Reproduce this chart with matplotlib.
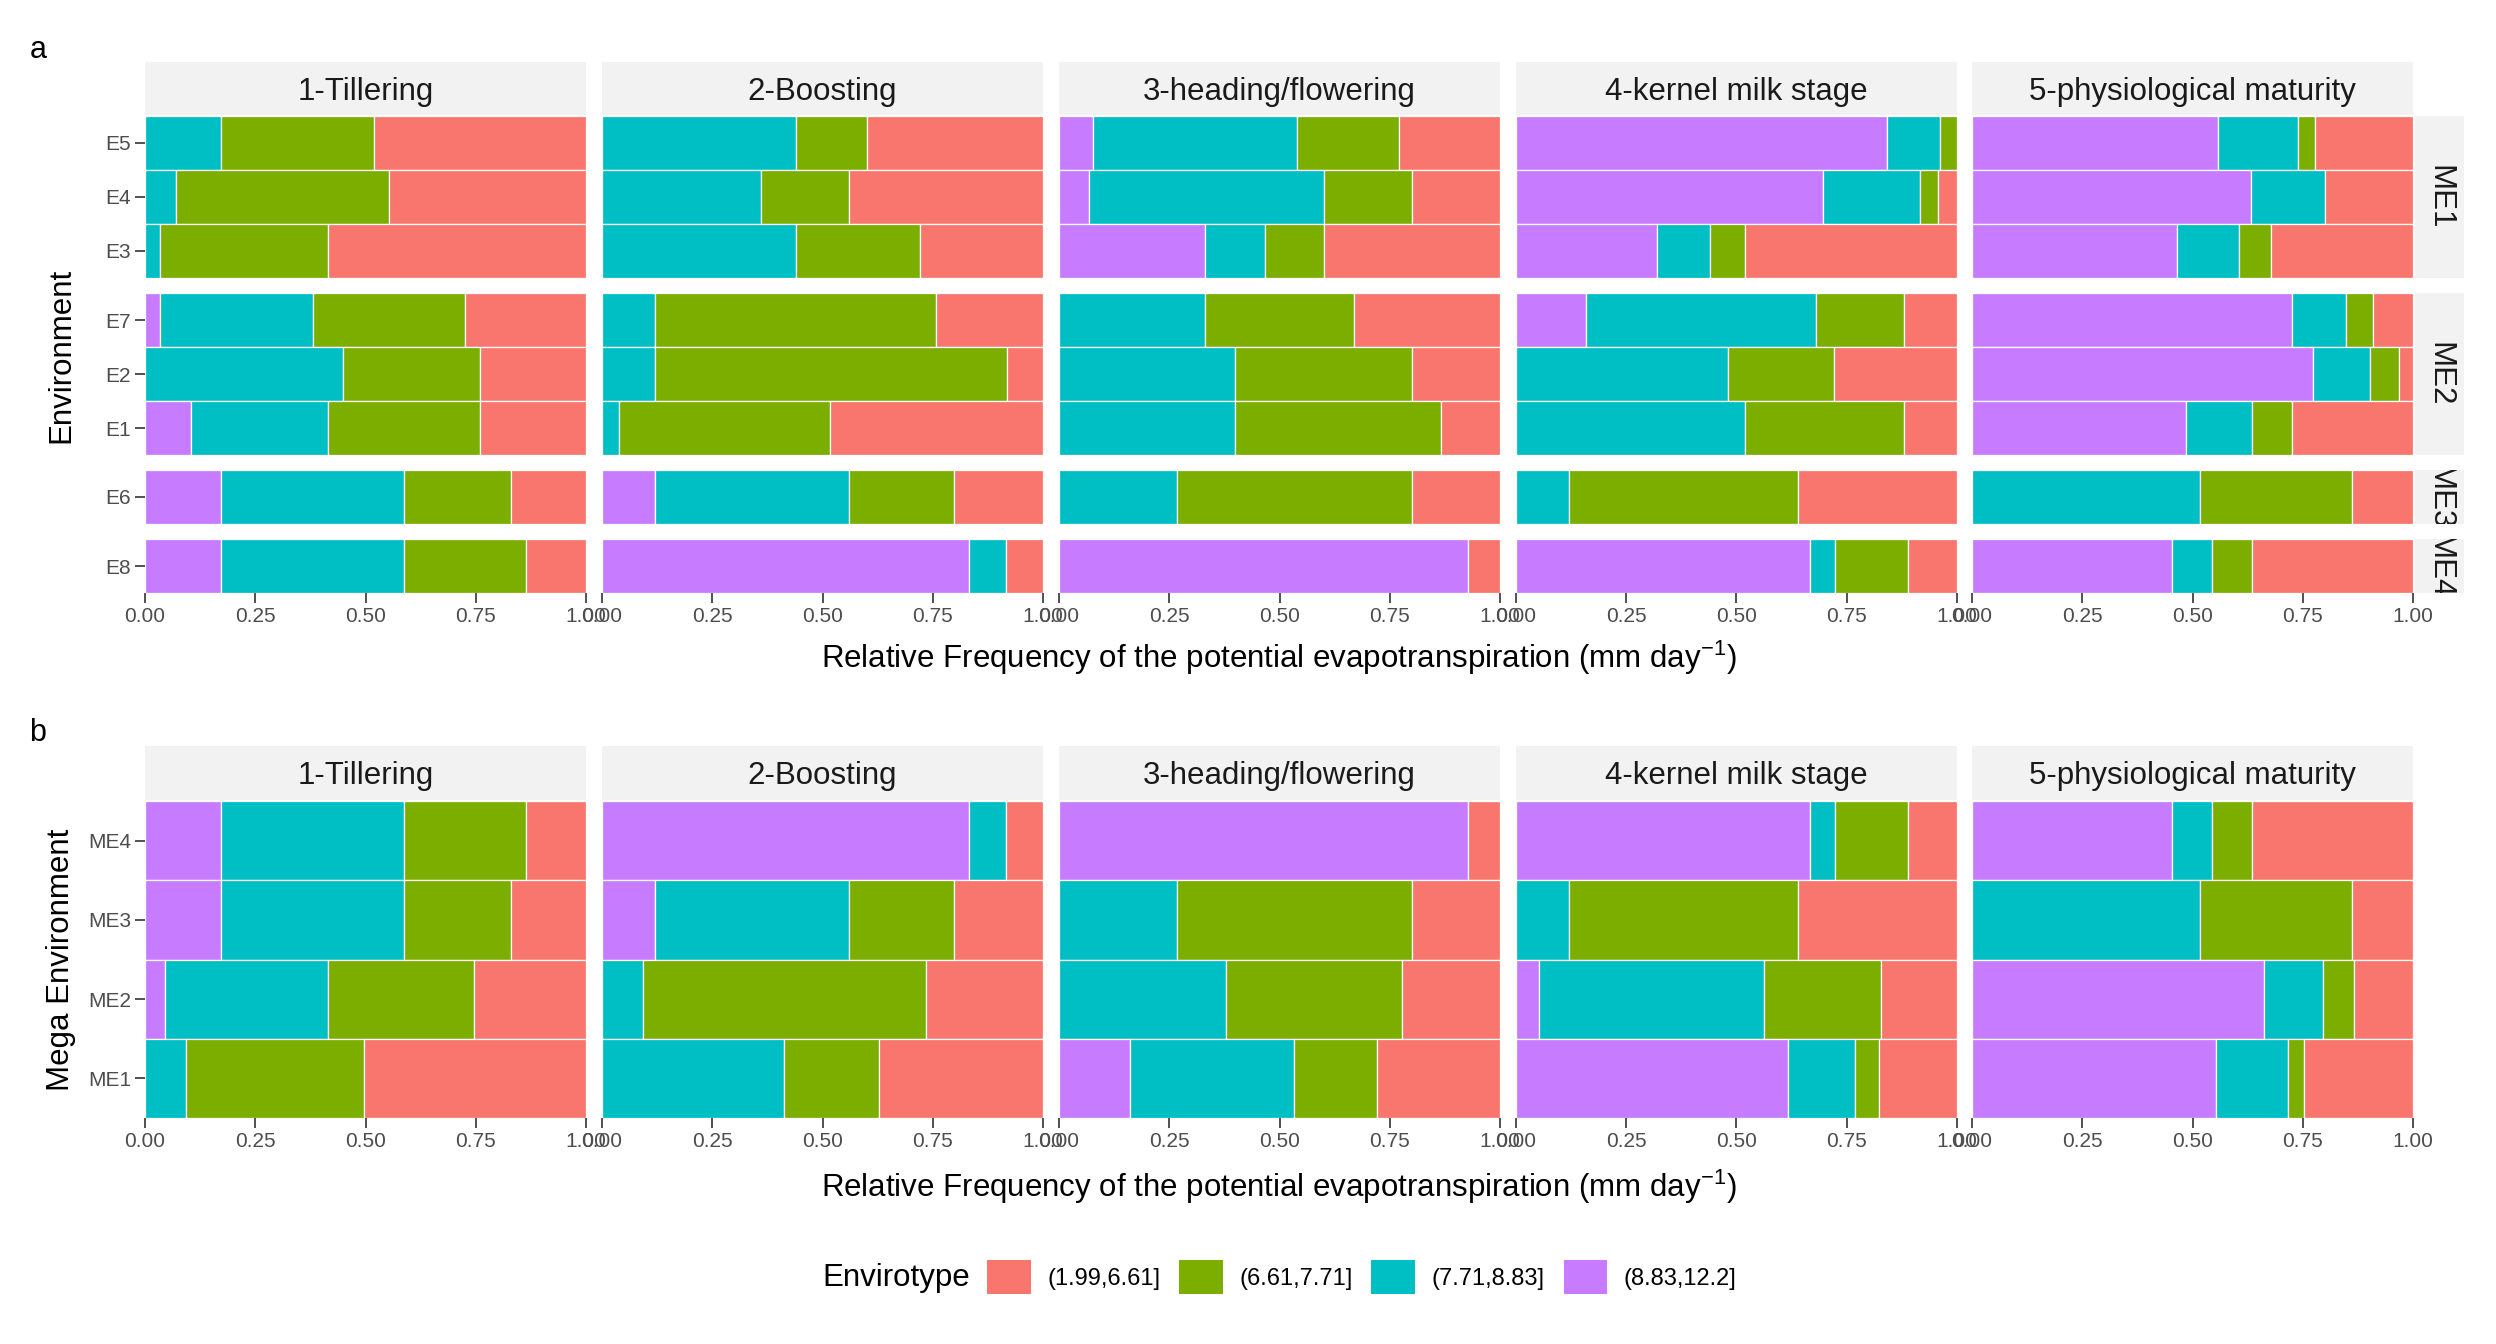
import matplotlib
matplotlib.use("Agg")
import matplotlib.pyplot as plt
from matplotlib.patches import Patch


plt.rcParams["font.family"] = ["Liberation Sans", "DejaVu Sans"]
plt.rcParams["mathtext.fontset"] = "custom"
plt.rcParams["mathtext.rm"] = "Liberation Sans"
plt.rcParams["mathtext.it"] = "Liberation Sans:italic"

FIG_W = 2496
FIG_H = 1344

STAGES = [
    "1-Tillering",
    "2-Boosting",
    "3-heading/flowering",
    "4-kernel milk stage",
    "5-physiological maturity",
]

CLASSES = ["(1.99,6.61]", "(6.61,7.71]", "(7.71,8.83]", "(8.83,12.2]"]
COLORS = ["#F8766D", "#7CAE00", "#00BFC4", "#C77CFF"]

# panel a: environments grouped by mega environment, top to bottom
ME_GROUPS = ["ME1", "ME2", "ME3", "ME4"]
ENV_BY_ME = [["E5", "E4", "E3"], ["E7", "E2", "E1"], ["E6"], ["E8"]]
ENVS = ["E5", "E4", "E3", "E7", "E2", "E1", "E6", "E8"]

# relative frequencies, one row per stage, one value per env (ENVS order)
A_HIGH = [  # (8.83,12.2]
    [0.000, 0.000, 0.000, 0.035, 0.000, 0.105, 0.173, 0.173],
    [0.000, 0.000, 0.000, 0.000, 0.000, 0.000, 0.120, 0.833],
    [0.076, 0.067, 0.332, 0.000, 0.000, 0.000, 0.000, 0.928],
    [0.842, 0.697, 0.320, 0.159, 0.000, 0.000, 0.000, 0.667],
    [0.557, 0.633, 0.464, 0.726, 0.774, 0.485, 0.000, 0.454],
]
A_MIDHIGH = [  # (7.71,8.83]
    [0.173, 0.071, 0.035, 0.346, 0.449, 0.310, 0.414, 0.414],
    [0.440, 0.360, 0.440, 0.120, 0.120, 0.038, 0.439, 0.084],
    [0.463, 0.533, 0.134, 0.332, 0.400, 0.400, 0.267, 0.000],
    [0.120, 0.218, 0.120, 0.522, 0.481, 0.520, 0.120, 0.057],
    [0.183, 0.168, 0.142, 0.123, 0.129, 0.151, 0.518, 0.091],
]
A_MIDLOW = [  # (6.61,7.71]
    [0.346, 0.482, 0.380, 0.344, 0.310, 0.344, 0.242, 0.276],
    [0.160, 0.199, 0.280, 0.638, 0.799, 0.480, 0.240, 0.000],
    [0.231, 0.201, 0.134, 0.336, 0.401, 0.467, 0.534, 0.000],
    [0.038, 0.043, 0.080, 0.199, 0.241, 0.360, 0.520, 0.166],
    [0.038, 0.000, 0.073, 0.061, 0.065, 0.090, 0.344, 0.091],
]
A_LOW = [  # (1.99,6.61]
    [0.481, 0.447, 0.585, 0.275, 0.241, 0.241, 0.171, 0.137],
    [0.400, 0.441, 0.280, 0.242, 0.081, 0.482, 0.201, 0.083],
    [0.230, 0.199, 0.400, 0.332, 0.199, 0.133, 0.199, 0.072],
    [0.000, 0.042, 0.480, 0.120, 0.278, 0.120, 0.360, 0.110],
    [0.222, 0.199, 0.321, 0.090, 0.032, 0.274, 0.138, 0.364],
]

# panel b: mega environments, top to bottom
MES_B = ["ME4", "ME3", "ME2", "ME1"]
B_HIGH = [
    [0.172, 0.172, 0.045, 0.000],
    [0.833, 0.120, 0.000, 0.000],
    [0.928, 0.000, 0.000, 0.162],
    [0.667, 0.000, 0.052, 0.617],
    [0.454, 0.000, 0.661, 0.553],
]
B_MIDHIGH = [
    [0.415, 0.415, 0.370, 0.092],
    [0.084, 0.439, 0.092, 0.412],
    [0.000, 0.267, 0.378, 0.371],
    [0.057, 0.120, 0.511, 0.151],
    [0.091, 0.518, 0.134, 0.164],
]
B_MIDLOW = [
    [0.277, 0.243, 0.332, 0.404],
    [0.000, 0.240, 0.642, 0.215],
    [0.000, 0.534, 0.400, 0.188],
    [0.166, 0.520, 0.264, 0.055],
    [0.091, 0.344, 0.071, 0.035],
]
B_LOW = [
    [0.136, 0.170, 0.253, 0.504],
    [0.083, 0.201, 0.266, 0.373],
    [0.072, 0.199, 0.222, 0.279],
    [0.110, 0.360, 0.173, 0.177],
    [0.364, 0.138, 0.134, 0.248],
]

XTICKS = [0.0, 0.25, 0.5, 0.75, 1.0]
XTICKLABELS = ["0.00", "0.25", "0.50", "0.75", "1.00"]

X_LABEL = "Relative Frequency of the potential evapotranspiration (mm day$^{-1}$)"

# layout in pixels
COL_LEFT = [145, 602, 1059, 1516, 1972]
COL_WIDTH = 441
A_STRIP = (62, 115)
A_ROWS = [(116, 278), (293, 455), (470, 524), (539, 593)]
B_STRIP = (746, 800)
B_ROWS = (801, 1118)
RIGHT_STRIP = (2415, 2464)

STRIP_BG = "#F2F2F2"
TICK_COLOR = "#333333"
TICKLABEL_COLOR = "#4D4D4D"


def px_axes(fig, x0, y0, x1, y1):
    return fig.add_axes([
        x0 / FIG_W,
        1 - y1 / FIG_H,
        (x1 - x0) / FIG_W,
        (y1 - y0) / FIG_H,
    ])


def draw_strip(fig, x0, y0, x1, y1, text, rotation=0):
    ax = px_axes(fig, x0, y0, x1, y1)
    ax.set_facecolor(STRIP_BG)
    ax.set_xticks([])
    ax.set_yticks([])
    for spine in ax.spines.values():
        spine.set_visible(False)
    if rotation == 0:
        pos = (0.5, 0.44)
    else:
        pos = (0.5, 0.5)
    ax.text(
        pos[0], pos[1], text,
        transform=ax.transAxes,
        ha="center", va="center",
        fontsize=22.5, color="#1A1A1A",
        rotation=rotation, clip_on=True,
    )


def draw_bars(ax, labels, series):
    n = len(labels)
    for i in range(n):
        y = n - 1 - i
        left = 0.0
        # stack from left: high classes first, low class at the right end
        for values, color in series:
            width = values[i]
            if width > 0:
                ax.barh(
                    y, width, left=left, height=1.0,
                    color=color, edgecolor="white", linewidth=0.9,
                )
            left += width

    ax.set_xlim(0, 1)
    ax.set_ylim(-0.5, n - 0.5)
    ax.set_yticks(range(n))
    ax.set_yticklabels(labels[::-1])
    for spine in ax.spines.values():
        spine.set_visible(False)
    ax.tick_params(
        length=7, width=1.2, color=TICK_COLOR,
        labelcolor=TICKLABEL_COLOR, labelsize=15, pad=3,
    )


def set_xaxis(ax, show):
    ax.set_xticks(XTICKS)
    if show:
        ax.set_xticklabels(XTICKLABELS)
    else:
        ax.set_xticks([])


def main():
    fig = plt.figure(figsize=(FIG_W / 100, FIG_H / 100), dpi=100)

    # panel a
    for s, stage in enumerate(STAGES):
        x0 = COL_LEFT[s]
        x1 = x0 + COL_WIDTH
        draw_strip(fig, x0, A_STRIP[0], x1, A_STRIP[1], stage)

        start = 0
        for g, envs in enumerate(ENV_BY_ME):
            stop = start + len(envs)
            y0, y1 = A_ROWS[g]
            ax = px_axes(fig, x0, y0, x1, y1)
            series = [
                (A_HIGH[s][start:stop], COLORS[3]),
                (A_MIDHIGH[s][start:stop], COLORS[2]),
                (A_MIDLOW[s][start:stop], COLORS[1]),
                (A_LOW[s][start:stop], COLORS[0]),
            ]
            draw_bars(ax, envs, series)
            set_xaxis(ax, g == len(ENV_BY_ME) - 1)
            if s > 0:
                ax.tick_params(axis="y", left=False, labelleft=False)
            start = stop

            if s == len(STAGES) - 1:
                draw_strip(
                    fig, RIGHT_STRIP[0], y0, RIGHT_STRIP[1], y1,
                    ME_GROUPS[g], rotation=-90,
                )

    # panel b
    for s, stage in enumerate(STAGES):
        x0 = COL_LEFT[s]
        x1 = x0 + COL_WIDTH
        draw_strip(fig, x0, B_STRIP[0], x1, B_STRIP[1], stage)

        ax = px_axes(fig, x0, B_ROWS[0], x1, B_ROWS[1])
        series = [
            (B_HIGH[s], COLORS[3]),
            (B_MIDHIGH[s], COLORS[2]),
            (B_MIDLOW[s], COLORS[1]),
            (B_LOW[s], COLORS[0]),
        ]
        draw_bars(ax, MES_B, series)
        set_xaxis(ax, True)
        if s > 0:
            ax.tick_params(axis="y", left=False, labelleft=False)

    # titles and panel tags
    fig.text(38 / FIG_W, 1 - 50 / FIG_H, "a", fontsize=22, ha="center", va="center")
    fig.text(38 / FIG_W, 1 - 733 / FIG_H, "b", fontsize=22, ha="center", va="center")

    fig.text(
        61 / FIG_W, 1 - 355 / FIG_H, "Environment",
        rotation=90, fontsize=22.5, ha="center", va="center",
    )
    fig.text(
        61 / FIG_W, 1 - 960 / FIG_H, "Mega Environment",
        rotation=90, fontsize=22.5, ha="center", va="center",
    )
    fig.text(1279 / FIG_W, 1 - 658 / FIG_H, X_LABEL,
             fontsize=22.5, ha="center", va="center")
    fig.text(1279 / FIG_W, 1 - 1187 / FIG_H, X_LABEL,
             fontsize=22.5, ha="center", va="center")

    # legend
    fig.text(896 / FIG_W, 1 - 1278 / FIG_H, "Envirotype",
             fontsize=22.5, ha="center", va="center")
    handles = [Patch(facecolor=c, edgecolor="none") for c in COLORS]
    fig.legend(
        handles, CLASSES,
        loc="center left",
        bbox_to_anchor=(987 / FIG_W, 1 - 1277 / FIG_H),
        ncol=4, frameon=False, fontsize=17,
        handlelength=1.85, handleheight=1.85,
        handletextpad=0.7, columnspacing=0.8,
        borderpad=0, borderaxespad=0,
    )

    fig.savefig("out.png", dpi=100)
    plt.close(fig)


if __name__ == "__main__":
    main()
